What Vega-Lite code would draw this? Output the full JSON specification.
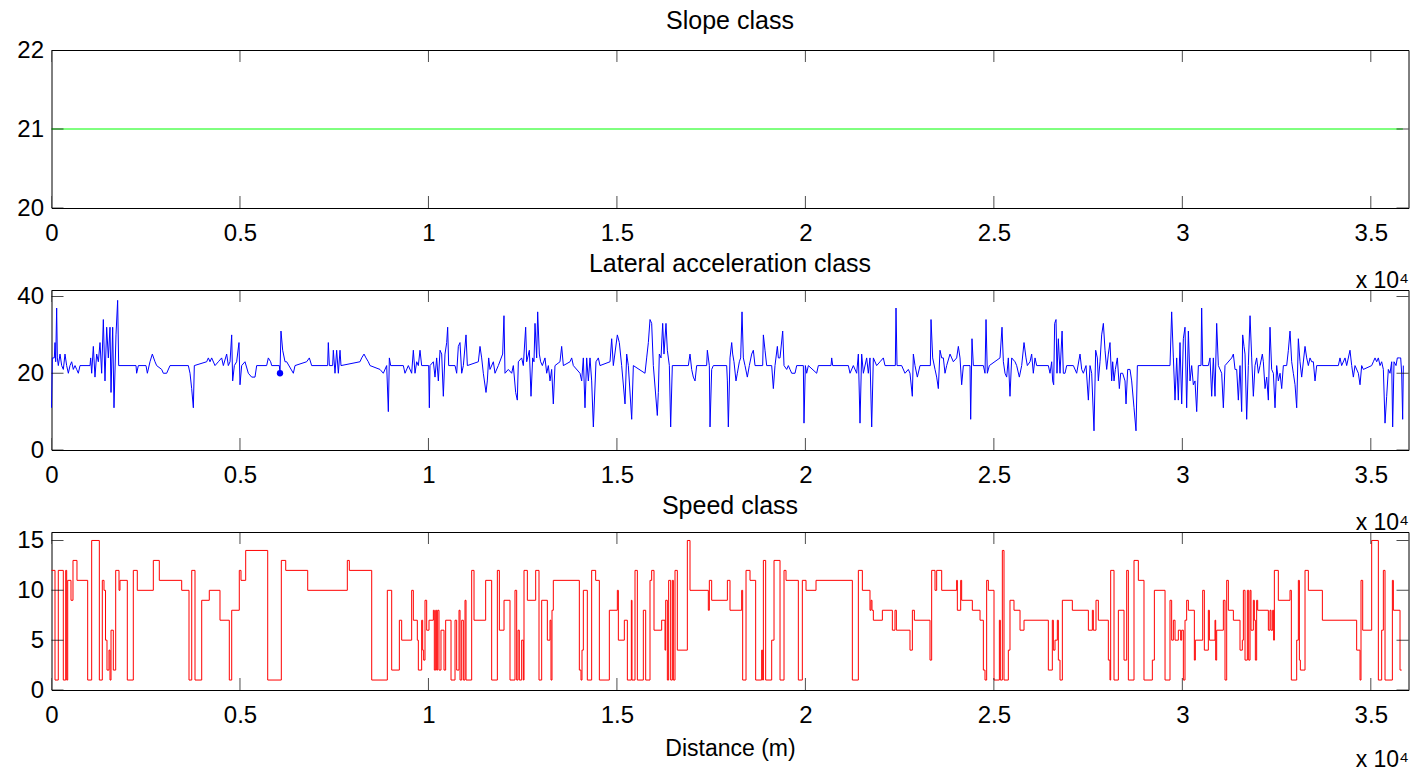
{
  "$schema": "https://vega.github.io/schema/vega-lite/v6.json",
  "background": "white",
  "padding": {"left": 15.5, "top": 8, "right": 2, "bottom": 2},
  "datasets": {
    "xticks": [
      {"distance": 0}, {"distance": 5000}, {"distance": 10000}, {"distance": 15000},
      {"distance": 20000}, {"distance": 25000}, {"distance": 30000}, {"distance": 35000}
    ],
    "slopeTicks": [{"value": 20}, {"value": 21}, {"value": 22}],
    "lateralTicks": [{"value": 0}, {"value": 20}, {"value": 40}],
    "speedTicks": [{"value": 0}, {"value": 5}, {"value": 10}, {"value": 15}],
    "slope": [
      {"distance": 0, "value": 21}, {"distance": 35850, "value": 21}
    ],
    "marker": [
      {"distance": 6062, "value": 20}
    ],
    "lateral": [
      {"distance":0,"value":11},{"distance":22,"value":24},{"distance":75,"value":24},{"distance":93,"value":28},{"distance":111,"value":23},{"distance":137,"value":37},{"distance":155,"value":24},{"distance":181,"value":22},{"distance":226,"value":25},{"distance":270,"value":22},{"distance":314,"value":21},{"distance":358,"value":25},{"distance":402,"value":22},{"distance":447,"value":20},{"distance":491,"value":22},{"distance":535,"value":23},{"distance":579,"value":21},{"distance":624,"value":22},{"distance":668,"value":21},{"distance":712,"value":20},{"distance":756,"value":22},
      {"distance":1022,"value":22},{"distance":1039,"value":24},{"distance":1066,"value":20},{"distance":1110,"value":27},{"distance":1154,"value":19},{"distance":1198,"value":25},{"distance":1243,"value":23},{"distance":1287,"value":28},{"distance":1331,"value":20},{"distance":1375,"value":34},{"distance":1419,"value":18},{"distance":1464,"value":32},{"distance":1508,"value":24},{"distance":1552,"value":32},{"distance":1579,"value":15},{"distance":1623,"value":32},{"distance":1658,"value":11},{"distance":1711,"value":30},{"distance":1755,"value":39},{"distance":1782,"value":22},
      {"distance":2242,"value":22},{"distance":2259,"value":20},{"distance":2304,"value":22},{"distance":2507,"value":22},{"distance":2543,"value":20},{"distance":2613,"value":23},{"distance":2675,"value":25},{"distance":2746,"value":23},{"distance":2790,"value":22},{"distance":2923,"value":21},{"distance":2967,"value":20},{"distance":3055,"value":20},{"distance":3144,"value":22},{"distance":3630,"value":22},{"distance":3675,"value":20},{"distance":3719,"value":16},{"distance":3763,"value":11},{"distance":3789,"value":22},
      {"distance":4117,"value":23},{"distance":4161,"value":24},{"distance":4205,"value":23},{"distance":4249,"value":24},{"distance":4338,"value":22},{"distance":4426,"value":23},{"distance":4514,"value":24},{"distance":4559,"value":22},{"distance":4647,"value":25},{"distance":4691,"value":22},{"distance":4736,"value":23},{"distance":4780,"value":30},{"distance":4806,"value":18},{"distance":4851,"value":22},{"distance":4912,"value":23},{"distance":4974,"value":28},{"distance":5001,"value":17},{"distance":5045,"value":22},{"distance":5133,"value":23},{"distance":5222,"value":20},{"distance":5310,"value":19},{"distance":5399,"value":19},{"distance":5443,"value":22},
      {"distance":5708,"value":22},{"distance":5752,"value":24},{"distance":5814,"value":23},{"distance":5841,"value":22},{"distance":6044,"value":22},{"distance":6062,"value":20},{"distance":6088,"value":31},{"distance":6133,"value":26},{"distance":6195,"value":23},{"distance":6239,"value":23},{"distance":6416,"value":20},{"distance":6460,"value":22},{"distance":6769,"value":23},{"distance":6840,"value":24},{"distance":6902,"value":22},{"distance":7326,"value":22},{"distance":7344,"value":28},{"distance":7371,"value":22},{"distance":7459,"value":22},{"distance":7477,"value":26},{"distance":7521,"value":20},{"distance":7565,"value":26},{"distance":7610,"value":20},{"distance":7654,"value":26},{"distance":7680,"value":22},
      {"distance":8184,"value":23},{"distance":8229,"value":24},{"distance":8291,"value":25},{"distance":8343,"value":24},{"distance":8405,"value":23},{"distance":8450,"value":22},{"distance":8715,"value":21},{"distance":8803,"value":20},{"distance":8892,"value":22},{"distance":8936,"value":10},{"distance":8963,"value":24},{"distance":8998,"value":22},{"distance":9334,"value":22},{"distance":9378,"value":20},{"distance":9467,"value":22},{"distance":9555,"value":20},{"distance":9599,"value":26},{"distance":9644,"value":20},{"distance":9688,"value":23},{"distance":9732,"value":22},{"distance":9776,"value":26},{"distance":9820,"value":22},
      {"distance":10006,"value":22},{"distance":10024,"value":11},{"distance":10041,"value":22},{"distance":10130,"value":23},{"distance":10174,"value":19},{"distance":10218,"value":24},{"distance":10263,"value":18},{"distance":10307,"value":26},{"distance":10351,"value":25},{"distance":10395,"value":14},{"distance":10439,"value":25},{"distance":10484,"value":28},{"distance":10510,"value":32},{"distance":10537,"value":22},{"distance":10705,"value":22},{"distance":10749,"value":20},{"distance":10793,"value":27},{"distance":10837,"value":28},{"distance":10882,"value":20},{"distance":10926,"value":22},{"distance":10997,"value":30},{"distance":11032,"value":22},
      {"distance":11324,"value":23},{"distance":11368,"value":27},{"distance":11412,"value":24},{"distance":11456,"value":20},{"distance":11527,"value":15},{"distance":11562,"value":18},{"distance":11598,"value":24},{"distance":11633,"value":21},{"distance":11722,"value":23},{"distance":11766,"value":20},{"distance":11854,"value":22},{"distance":11969,"value":25},{"distance":12004,"value":35},{"distance":12031,"value":20},{"distance":12119,"value":21},{"distance":12208,"value":20},{"distance":12252,"value":22},{"distance":12314,"value":15},{"distance":12358,"value":13},{"distance":12385,"value":23},{"distance":12473,"value":24},{"distance":12517,"value":22},
      {"distance":12579,"value":32},{"distance":12606,"value":23},{"distance":12677,"value":26},{"distance":12721,"value":14},{"distance":12765,"value":24},{"distance":12800,"value":23},{"distance":12827,"value":33},{"distance":12871,"value":24},{"distance":12898,"value":36},{"distance":12942,"value":25},{"distance":12977,"value":23},{"distance":13022,"value":22},{"distance":13092,"value":24},{"distance":13137,"value":20},{"distance":13181,"value":22},{"distance":13225,"value":18},{"distance":13269,"value":21},{"distance":13313,"value":12},{"distance":13357,"value":22},
      {"distance":13490,"value":23},{"distance":13534,"value":27},{"distance":13579,"value":22},{"distance":13756,"value":23},{"distance":13800,"value":24},{"distance":13844,"value":22},{"distance":14021,"value":20},{"distance":14065,"value":18},{"distance":14109,"value":24},{"distance":14153,"value":11},{"distance":14198,"value":24},{"distance":14242,"value":18},{"distance":14286,"value":24},{"distance":14330,"value":18},{"distance":14375,"value":6},{"distance":14445,"value":23},{"distance":14507,"value":24},{"distance":14551,"value":22},
      {"distance":14817,"value":23},{"distance":14861,"value":29},{"distance":14905,"value":22},{"distance":15011,"value":30},{"distance":15064,"value":28},{"distance":15126,"value":22},{"distance":15215,"value":12},{"distance":15259,"value":25},{"distance":15303,"value":22},{"distance":15392,"value":8},{"distance":15436,"value":22},{"distance":15745,"value":20},{"distance":15789,"value":24},{"distance":15834,"value":28},{"distance":15878,"value":34},{"distance":15922,"value":33},{"distance":15966,"value":22},
      {"distance":16072,"value":9},{"distance":16099,"value":15},{"distance":16125,"value":25},{"distance":16170,"value":24},{"distance":16214,"value":33},{"distance":16249,"value":25},{"distance":16302,"value":33},{"distance":16338,"value":26},{"distance":16391,"value":22},{"distance":16426,"value":6},{"distance":16470,"value":22},{"distance":16895,"value":22},{"distance":16939,"value":25},{"distance":16983,"value":21},{"distance":17027,"value":19},{"distance":17072,"value":18},{"distance":17116,"value":22},{"distance":17381,"value":22},{"distance":17399,"value":26},{"distance":17452,"value":22},{"distance":17470,"value":6},{"distance":17514,"value":21},{"distance":17558,"value":22},
      {"distance":17912,"value":22},{"distance":17930,"value":18},{"distance":17956,"value":6},{"distance":18000,"value":24},{"distance":18045,"value":28},{"distance":18071,"value":25},{"distance":18106,"value":23},{"distance":18159,"value":18},{"distance":18195,"value":20},{"distance":18248,"value":23},{"distance":18283,"value":24},{"distance":18319,"value":36},{"distance":18354,"value":24},{"distance":18398,"value":22},{"distance":18460,"value":19},{"distance":18513,"value":22},{"distance":18575,"value":25},{"distance":18619,"value":26},{"distance":18664,"value":22},
      {"distance":18867,"value":22},{"distance":18885,"value":30},{"distance":18929,"value":26},{"distance":18973,"value":22},{"distance":19106,"value":22},{"distance":19150,"value":16},{"distance":19194,"value":22},{"distance":19256,"value":27},{"distance":19283,"value":24},{"distance":19327,"value":24},{"distance":19398,"value":31},{"distance":19433,"value":22},{"distance":19504,"value":21},{"distance":19548,"value":22},{"distance":19592,"value":21},{"distance":19637,"value":20},{"distance":19725,"value":20},{"distance":19769,"value":22},
      {"distance":19946,"value":22},{"distance":19963,"value":7},{"distance":19999,"value":22},{"distance":20034,"value":20},{"distance":20079,"value":22},{"distance":20299,"value":20},{"distance":20344,"value":22},{"distance":20680,"value":22},{"distance":20698,"value":24},{"distance":20724,"value":22},{"distance":21140,"value":22},{"distance":21184,"value":20},{"distance":21272,"value":22},{"distance":21361,"value":20},{"distance":21405,"value":25},{"distance":21449,"value":7},{"distance":21493,"value":25},{"distance":21538,"value":20},{"distance":21626,"value":24},{"distance":21670,"value":20},{"distance":21714,"value":24},{"distance":21759,"value":6},{"distance":21803,"value":24},{"distance":21891,"value":22},{"distance":21980,"value":23},{"distance":22068,"value":24},{"distance":22112,"value":22},
      {"distance":22386,"value":22},{"distance":22404,"value":37},{"distance":22431,"value":22},{"distance":22554,"value":22},{"distance":22643,"value":20},{"distance":22731,"value":21},{"distance":22775,"value":20},{"distance":22837,"value":14},{"distance":22864,"value":25},{"distance":22908,"value":22},{"distance":22970,"value":19},{"distance":23041,"value":22},{"distance":23315,"value":22},{"distance":23333,"value":34},{"distance":23377,"value":24},{"distance":23439,"value":21},{"distance":23483,"value":19},{"distance":23527,"value":16},{"distance":23571,"value":26},{"distance":23616,"value":24},{"distance":23660,"value":24},{"distance":23704,"value":20},{"distance":23748,"value":22},
      {"distance":23837,"value":25},{"distance":23881,"value":24},{"distance":23925,"value":23},{"distance":24013,"value":24},{"distance":24058,"value":27},{"distance":24102,"value":24},{"distance":24146,"value":17},{"distance":24191,"value":22},{"distance":24367,"value":22},{"distance":24385,"value":8},{"distance":24420,"value":29},{"distance":24456,"value":22},{"distance":24721,"value":22},{"distance":24765,"value":20},{"distance":24792,"value":34},{"distance":24827,"value":20},{"distance":24880,"value":22},
      {"distance":25163,"value":24},{"distance":25216,"value":32},{"distance":25252,"value":23},{"distance":25296,"value":20},{"distance":25340,"value":19},{"distance":25384,"value":24},{"distance":25428,"value":14},{"distance":25473,"value":24},{"distance":25561,"value":23},{"distance":25605,"value":22},{"distance":25676,"value":19},{"distance":25738,"value":22},{"distance":25800,"value":28},{"distance":25853,"value":24},{"distance":25888,"value":22},{"distance":25959,"value":23},{"distance":26003,"value":25},{"distance":26047,"value":20},{"distance":26092,"value":24},{"distance":26136,"value":22},
      {"distance":26445,"value":22},{"distance":26490,"value":20},{"distance":26534,"value":23},{"distance":26560,"value":18},{"distance":26587,"value":17},{"distance":26613,"value":33},{"distance":26649,"value":34},{"distance":26675,"value":20},{"distance":26711,"value":29},{"distance":26755,"value":20},{"distance":26810,"value":31},{"distance":26843,"value":20},{"distance":26888,"value":20},{"distance":26932,"value":22},
      {"distance":27109,"value":22},{"distance":27197,"value":20},{"distance":27286,"value":25},{"distance":27330,"value":21},{"distance":27374,"value":20},{"distance":27445,"value":22},{"distance":27507,"value":13},{"distance":27551,"value":22},{"distance":27595,"value":20},{"distance":27657,"value":5},{"distance":27701,"value":26},{"distance":27745,"value":24},{"distance":27772,"value":18},{"distance":27816,"value":23},{"distance":27860,"value":30},{"distance":27905,"value":33},{"distance":27949,"value":26},{"distance":27993,"value":21},{"distance":28037,"value":25},{"distance":28081,"value":28},{"distance":28126,"value":18},{"distance":28152,"value":23},{"distance":28188,"value":18},{"distance":28223,"value":21},{"distance":28276,"value":24},{"distance":28329,"value":16},{"distance":28364,"value":20},{"distance":28417,"value":20},{"distance":28479,"value":18},{"distance":28506,"value":12},{"distance":28550,"value":21},{"distance":28612,"value":21},{"distance":28656,"value":18},{"distance":28718,"value":11},{"distance":28771,"value":5},{"distance":28807,"value":22},
      {"distance":29673,"value":22},{"distance":29717,"value":36},{"distance":29762,"value":24},{"distance":29806,"value":13},{"distance":29850,"value":24},{"distance":29894,"value":13},{"distance":29938,"value":28},{"distance":29983,"value":12},{"distance":30027,"value":29},{"distance":30071,"value":32},{"distance":30115,"value":11},{"distance":30160,"value":31},{"distance":30204,"value":18},{"distance":30248,"value":22},{"distance":30292,"value":17},{"distance":30336,"value":18},{"distance":30381,"value":10},{"distance":30425,"value":22},{"distance":30496,"value":22},{"distance":30513,"value":37},{"distance":30540,"value":22},
      {"distance":30690,"value":22},{"distance":30734,"value":24},{"distance":30779,"value":14},{"distance":30823,"value":24},{"distance":30867,"value":14},{"distance":30911,"value":33},{"distance":30956,"value":22},{"distance":31044,"value":20},{"distance":31088,"value":11},{"distance":31132,"value":22},{"distance":31309,"value":24},{"distance":31354,"value":25},{"distance":31398,"value":21},{"distance":31442,"value":21},{"distance":31486,"value":13},{"distance":31530,"value":22},{"distance":31574,"value":10},{"distance":31601,"value":30},{"distance":31636,"value":27},{"distance":31663,"value":25},{"distance":31707,"value":8},{"distance":31751,"value":22},{"distance":31796,"value":35},{"distance":31840,"value":24},{"distance":31884,"value":14},{"distance":31928,"value":22},
      {"distance":31972,"value":24},{"distance":32017,"value":20},{"distance":32061,"value":22},{"distance":32123,"value":25},{"distance":32149,"value":23},{"distance":32194,"value":16},{"distance":32238,"value":19},{"distance":32282,"value":13},{"distance":32326,"value":32},{"distance":32370,"value":21},{"distance":32415,"value":20},{"distance":32459,"value":11},{"distance":32503,"value":22},{"distance":32547,"value":18},{"distance":32592,"value":20},{"distance":32636,"value":16},{"distance":32680,"value":22},{"distance":32768,"value":22},{"distance":32813,"value":26},{"distance":32857,"value":31},{"distance":32901,"value":23},{"distance":32945,"value":20},{"distance":32990,"value":17},{"distance":33034,"value":11},{"distance":33078,"value":29},{"distance":33122,"value":23},{"distance":33166,"value":19},{"distance":33255,"value":27},{"distance":33299,"value":24},{"distance":33343,"value":22},{"distance":33387,"value":24},{"distance":33432,"value":23},{"distance":33476,"value":23},{"distance":33520,"value":18},{"distance":33564,"value":22},
      {"distance":34139,"value":22},{"distance":34183,"value":24},{"distance":34227,"value":22},{"distance":34316,"value":24},{"distance":34360,"value":22},{"distance":34448,"value":26},{"distance":34493,"value":22},{"distance":34537,"value":19},{"distance":34581,"value":22},{"distance":34670,"value":20},{"distance":34714,"value":17},{"distance":34758,"value":22},{"distance":34802,"value":21},{"distance":35023,"value":22},{"distance":35067,"value":23},{"distance":35112,"value":24},{"distance":35156,"value":23},{"distance":35200,"value":24},{"distance":35244,"value":22},{"distance":35288,"value":23},{"distance":35333,"value":21},{"distance":35377,"value":7},{"distance":35421,"value":14},{"distance":35465,"value":21},{"distance":35510,"value":20},{"distance":35554,"value":23},{"distance":35580,"value":6},{"distance":35616,"value":23},{"distance":35669,"value":22},{"distance":35704,"value":24},{"distance":35757,"value":24},{"distance":35793,"value":24},{"distance":35819,"value":20},{"distance":35845,"value":8},{"distance":35863,"value":22}
    ],
    "speed": [
      {"distance":0,"value":12},{"distance":93,"value":1},{"distance":180,"value":12},{"distance":313,"value":1},{"distance":377,"value":12},{"distance":403,"value":1},{"distance":430,"value":11},{"distance":517,"value":9},{"distance":570,"value":13},{"distance":676,"value":11},{"distance":960,"value":1},{"distance":1066,"value":15},{"distance":1269,"value":1},{"distance":1348,"value":11},{"distance":1393,"value":10},{"distance":1433,"value":5},{"distance":1472,"value":2},{"distance":1525,"value":4},{"distance":1552,"value":1},{"distance":1579,"value":6},{"distance":1640,"value":2},{"distance":1703,"value":12},{"distance":1791,"value":10},{"distance":1817,"value":11},
      {"distance":2011,"value":1},{"distance":2170,"value":12},{"distance":2276,"value":10},{"distance":2701,"value":13},{"distance":2860,"value":11},{"distance":3454,"value":10},{"distance":3648,"value":1},{"distance":3720,"value":12},{"distance":3807,"value":1},{"distance":3985,"value":9},{"distance":4186,"value":10},{"distance":4470,"value":7},{"distance":4717,"value":1},{"distance":4781,"value":8},{"distance":4982,"value":12},{"distance":5027,"value":11},{"distance":5152,"value":14},{"distance":5736,"value":1},{"distance":6097,"value":13},{"distance":6214,"value":12},{"distance":6797,"value":10},{"distance":7848,"value":13},{"distance":7901,"value":12},{"distance":8495,"value":1},{"distance":8909,"value":10},
      {"distance":9025,"value":2},{"distance":9228,"value":7},{"distance":9290,"value":5},{"distance":9555,"value":10},{"distance":9599,"value":7},{"distance":9705,"value":5},{"distance":9732,"value":2},{"distance":9820,"value":7},{"distance":9847,"value":4},{"distance":9873,"value":3},{"distance":9909,"value":9},{"distance":9953,"value":6},{"distance":10015,"value":7},{"distance":10130,"value":8},{"distance":10156,"value":2},{"distance":10192,"value":8},{"distance":10218,"value":2},{"distance":10245,"value":8},{"distance":10280,"value":2},{"distance":10333,"value":6},{"distance":10413,"value":2},{"distance":10457,"value":7},{"distance":10599,"value":1},{"distance":10705,"value":7},{"distance":10749,"value":2},{"distance":10811,"value":8},{"distance":10838,"value":1},{"distance":10882,"value":7},{"distance":10926,"value":1},{"distance":10970,"value":9},{"distance":10997,"value":1},
      {"distance":11147,"value":12},{"distance":11209,"value":7},{"distance":11518,"value":11},{"distance":11677,"value":1},{"distance":11828,"value":12},{"distance":11881,"value":6},{"distance":12005,"value":9},{"distance":12164,"value":1},{"distance":12296,"value":10},{"distance":12341,"value":1},{"distance":12376,"value":6},{"distance":12411,"value":1},{"distance":12473,"value":5},{"distance":12517,"value":1},{"distance":12535,"value":12},{"distance":12624,"value":9},{"distance":12845,"value":12},{"distance":12933,"value":1},{"distance":13004,"value":9},{"distance":13154,"value":5},{"distance":13225,"value":7},{"distance":13251,"value":1},{"distance":13278,"value":8},{"distance":13313,"value":11},
      {"distance":14003,"value":2},{"distance":14047,"value":1},{"distance":14074,"value":4},{"distance":14109,"value":10},{"distance":14215,"value":1},{"distance":14330,"value":12},{"distance":14436,"value":11},{"distance":14534,"value":1},{"distance":14799,"value":8},{"distance":15011,"value":10},{"distance":15038,"value":5},{"distance":15197,"value":7},{"distance":15277,"value":1},{"distance":15383,"value":9},{"distance":15400,"value":1},{"distance":15480,"value":12},{"distance":15542,"value":1},{"distance":15701,"value":8},{"distance":15763,"value":1},{"distance":15878,"value":11},{"distance":15922,"value":12},{"distance":15984,"value":6},
      {"distance":16187,"value":7},{"distance":16276,"value":4},{"distance":16294,"value":9},{"distance":16338,"value":1},{"distance":16373,"value":11},{"distance":16426,"value":1},{"distance":16470,"value":11},{"distance":16497,"value":1},{"distance":16541,"value":12},{"distance":16603,"value":4},{"distance":16868,"value":15},{"distance":16939,"value":10},{"distance":17425,"value":8},{"distance":17452,"value":11},{"distance":17514,"value":9},
      {"distance":17930,"value":11},{"distance":18000,"value":8},{"distance":18310,"value":10},{"distance":18336,"value":1},{"distance":18425,"value":12},{"distance":18531,"value":11},{"distance":18681,"value":1},{"distance":18840,"value":4},{"distance":18867,"value":1},{"distance":18885,"value":13},{"distance":18946,"value":1},{"distance":19106,"value":5},{"distance":19168,"value":13},{"distance":19327,"value":1},{"distance":19433,"value":12},{"distance":19486,"value":11},{"distance":19813,"value":1},{"distance":19919,"value":11},{"distance":20017,"value":10},{"distance":20282,"value":11},
      {"distance":21246,"value":1},{"distance":21405,"value":12},{"distance":21511,"value":10},{"distance":21714,"value":8},{"distance":21741,"value":9},{"distance":21767,"value":8},{"distance":21803,"value":7},{"distance":22042,"value":8},{"distance":22307,"value":6},{"distance":22377,"value":8},{"distance":22413,"value":6},{"distance":22775,"value":4},{"distance":22838,"value":8},{"distance":22891,"value":7},{"distance":23306,"value":3},{"distance":23350,"value":12},{"distance":23439,"value":10},{"distance":23483,"value":12},{"distance":23616,"value":10},
      {"distance":24013,"value":11},{"distance":24031,"value":8},{"distance":24120,"value":11},{"distance":24146,"value":9},{"distance":24429,"value":8},{"distance":24633,"value":7},{"distance":24721,"value":2},{"distance":24765,"value":1},{"distance":24809,"value":11},{"distance":24854,"value":10},{"distance":25004,"value":1},{"distance":25146,"value":7},{"distance":25172,"value":1},{"distance":25225,"value":14},{"distance":25269,"value":1},{"distance":25384,"value":4},{"distance":25428,"value":9},{"distance":25534,"value":8},{"distance":25694,"value":6},{"distance":25800,"value":7},
      {"distance":26445,"value":2},{"distance":26551,"value":7},{"distance":26578,"value":4},{"distance":26622,"value":5},{"distance":26684,"value":7},{"distance":26711,"value":3},{"distance":26755,"value":1},{"distance":26817,"value":9},{"distance":27082,"value":8},{"distance":27507,"value":6},{"distance":27613,"value":8},{"distance":27639,"value":6},{"distance":27710,"value":9},{"distance":27772,"value":7},{"distance":28037,"value":3},{"distance":28081,"value":1},{"distance":28099,"value":12},{"distance":28188,"value":1},{"distance":28303,"value":8},{"distance":28453,"value":3},{"distance":28524,"value":12},{"distance":28568,"value":1},{"distance":28718,"value":13},{"distance":28833,"value":11},{"distance":28983,"value":1},
      {"distance":29204,"value":3},{"distance":29258,"value":10},{"distance":29541,"value":1},{"distance":29673,"value":9},{"distance":29717,"value":5},{"distance":29762,"value":7},{"distance":29806,"value":5},{"distance":29894,"value":6},{"distance":29956,"value":5},{"distance":29983,"value":6},{"distance":30027,"value":1},{"distance":30071,"value":7},{"distance":30115,"value":9},{"distance":30160,"value":8},{"distance":30319,"value":3},{"distance":30345,"value":5},{"distance":30540,"value":10},{"distance":30584,"value":4},{"distance":30690,"value":8},{"distance":30717,"value":5},{"distance":30867,"value":7},{"distance":30885,"value":3},{"distance":30911,"value":6},
      {"distance":31088,"value":9},{"distance":31132,"value":1},{"distance":31177,"value":11},{"distance":31221,"value":8},{"distance":31354,"value":7},{"distance":31530,"value":4},{"distance":31592,"value":5},{"distance":31619,"value":10},{"distance":31663,"value":3},{"distance":31725,"value":10},{"distance":31760,"value":3},{"distance":31796,"value":10},{"distance":31822,"value":6},{"distance":31884,"value":9},{"distance":31910,"value":7},{"distance":31937,"value":3},{"distance":31972,"value":9},{"distance":31999,"value":8},{"distance":32282,"value":6},{"distance":32326,"value":8},{"distance":32352,"value":6},{"distance":32397,"value":8},{"distance":32423,"value":5},{"distance":32441,"value":12},{"distance":32547,"value":9},{"distance":32857,"value":10},{"distance":32892,"value":1},
      {"distance":33034,"value":5},{"distance":33078,"value":11},{"distance":33105,"value":3},{"distance":33131,"value":2},{"distance":33255,"value":12},{"distance":33343,"value":10},{"distance":33715,"value":7},{"distance":34625,"value":4},{"distance":34714,"value":1},{"distance":34740,"value":11},{"distance":34785,"value":6},{"distance":35023,"value":15},{"distance":35200,"value":1},{"distance":35288,"value":6},{"distance":35333,"value":12},{"distance":35377,"value":1},{"distance":35572,"value":11},{"distance":35598,"value":8},{"distance":35775,"value":2},{"distance":35819,"value":2}
    ]
  },
  "title": {
    "text": "x 10⁴",
    "orient": "bottom",
    "anchor": "end",
    "baseline": "alphabetic",
    "offset": 6,
    "fontSize": 23,
    "font": "Liberation Sans",
    "fontWeight": "normal",
    "color": "black"
  },
  "bounds": "flush",
  "spacing": 82,
  "vconcat": [
    {
      "width": 1357,
      "height": 158,
      "title": {"text": "Slope class", "baseline": "alphabetic", "offset": -16},
      "layer": [
        {
          "data": {"name": "slope"},
          "mark": {"type": "line", "color": "#00ff00", "strokeWidth": 1},
          "encoding": {
            "x": {"field": "distance", "type": "quantitative",
                  "scale": {"domain": [0, 36000], "nice": false, "zero": false},
                  "axis": {"orient": "bottom", "values": [0, 5000, 10000, 15000, 20000, 25000, 30000, 35000],
                           "labelExpr": "datum.value / 10000", "title": "x 10⁴",
                           "titleAnchor": "end", "titleAlign": "right", "titleBaseline": "alphabetic", "titlePadding": 42}},
            "y": {"field": "value", "type": "quantitative",
                  "scale": {"domain": [20, 22], "nice": false, "zero": false},
                  "axis": {"orient": "left", "values": [20, 21, 22], "labelExpr": "'' + datum.value", "title": null}}
          }
        },
        {"data": {"name": "xticks"}, "mark": {"type": "tick", "orient": "vertical", "size": 24, "thickness": 1, "color": "black", "clip": true},
         "encoding": {"x": {"field": "distance", "type": "quantitative", "scale": {"domain": [0, 36000], "nice": false, "zero": false}, "axis": null},
                      "y": {"datum": 22, "type": "quantitative", "scale": {"domain": [20, 22], "nice": false, "zero": false}, "axis": null}}},
        {"data": {"name": "xticks"}, "mark": {"type": "tick", "orient": "vertical", "size": 24, "thickness": 1, "color": "black", "clip": true},
         "encoding": {"x": {"field": "distance", "type": "quantitative", "scale": {"domain": [0, 36000], "nice": false, "zero": false}, "axis": null},
                      "y": {"datum": 20, "type": "quantitative", "scale": {"domain": [20, 22], "nice": false, "zero": false}, "axis": null}}},
        {"data": {"name": "slopeTicks"}, "mark": {"type": "tick", "orient": "horizontal", "size": 24, "thickness": 1, "color": "black", "clip": true},
         "encoding": {"y": {"field": "value", "type": "quantitative", "scale": {"domain": [20, 22], "nice": false, "zero": false}, "axis": null},
                      "x": {"datum": 0, "type": "quantitative", "scale": {"domain": [0, 36000], "nice": false, "zero": false}, "axis": null}}},
        {"data": {"name": "slopeTicks"}, "mark": {"type": "tick", "orient": "horizontal", "size": 24, "thickness": 1, "color": "black", "clip": true},
         "encoding": {"y": {"field": "value", "type": "quantitative", "scale": {"domain": [20, 22], "nice": false, "zero": false}, "axis": null},
                      "x": {"datum": 36000, "type": "quantitative", "scale": {"domain": [0, 36000], "nice": false, "zero": false}, "axis": null}}}
      ],
      "resolve": {"scale": {"x": "independent", "y": "independent"}}
    },
    {
      "width": 1357,
      "height": 160,
      "title": {"text": "Lateral acceleration class", "baseline": "alphabetic", "offset": -12},
      "layer": [
        {
          "data": {"name": "lateral"},
          "mark": {"type": "line", "color": "#0000ff", "strokeWidth": 1},
          "encoding": {
            "x": {"field": "distance", "type": "quantitative",
                  "scale": {"domain": [0, 36000], "nice": false, "zero": false},
                  "axis": {"orient": "bottom", "values": [0, 5000, 10000, 15000, 20000, 25000, 30000, 35000],
                           "labelExpr": "datum.value / 10000", "title": "x 10⁴",
                           "titleAnchor": "end", "titleAlign": "right", "titleBaseline": "alphabetic", "titlePadding": 42}},
            "y": {"field": "value", "type": "quantitative",
                  "scale": {"domain": [0, 41.7], "nice": false, "zero": false},
                  "axis": {"orient": "left", "values": [0, 20, 40], "labelExpr": "'' + datum.value", "title": null}}
          }
        },
        {
          "data": {"name": "marker"},
          "mark": {"type": "point", "filled": true, "color": "#0000ff", "size": 40, "opacity": 1},
          "encoding": {
            "x": {"field": "distance", "type": "quantitative", "scale": {"domain": [0, 36000], "nice": false, "zero": false}, "axis": null},
            "y": {"field": "value", "type": "quantitative", "scale": {"domain": [0, 41.7], "nice": false, "zero": false}, "axis": null}
          }
        },
        {"data": {"name": "xticks"}, "mark": {"type": "tick", "orient": "vertical", "size": 24, "thickness": 1, "color": "black", "clip": true},
         "encoding": {"x": {"field": "distance", "type": "quantitative", "scale": {"domain": [0, 36000], "nice": false, "zero": false}, "axis": null},
                      "y": {"datum": 41.7, "type": "quantitative", "scale": {"domain": [0, 41.7], "nice": false, "zero": false}, "axis": null}}},
        {"data": {"name": "xticks"}, "mark": {"type": "tick", "orient": "vertical", "size": 24, "thickness": 1, "color": "black", "clip": true},
         "encoding": {"x": {"field": "distance", "type": "quantitative", "scale": {"domain": [0, 36000], "nice": false, "zero": false}, "axis": null},
                      "y": {"datum": 0, "type": "quantitative", "scale": {"domain": [0, 41.7], "nice": false, "zero": false}, "axis": null}}},
        {"data": {"name": "lateralTicks"}, "mark": {"type": "tick", "orient": "horizontal", "size": 24, "thickness": 1, "color": "black", "clip": true},
         "encoding": {"y": {"field": "value", "type": "quantitative", "scale": {"domain": [0, 41.7], "nice": false, "zero": false}, "axis": null},
                      "x": {"datum": 0, "type": "quantitative", "scale": {"domain": [0, 36000], "nice": false, "zero": false}, "axis": null}}},
        {"data": {"name": "lateralTicks"}, "mark": {"type": "tick", "orient": "horizontal", "size": 24, "thickness": 1, "color": "black", "clip": true},
         "encoding": {"y": {"field": "value", "type": "quantitative", "scale": {"domain": [0, 41.7], "nice": false, "zero": false}, "axis": null},
                      "x": {"datum": 36000, "type": "quantitative", "scale": {"domain": [0, 36000], "nice": false, "zero": false}, "axis": null}}}
      ],
      "resolve": {"scale": {"x": "independent", "y": "independent"}}
    },
    {
      "width": 1357,
      "height": 158,
      "title": {"text": "Speed class", "baseline": "alphabetic", "offset": -11},
      "layer": [
        {
          "data": {"name": "speed"},
          "mark": {"type": "line", "color": "#ff0000", "strokeWidth": 1, "interpolate": "step-after"},
          "encoding": {
            "x": {"field": "distance", "type": "quantitative",
                  "scale": {"domain": [0, 36000], "nice": false, "zero": false},
                  "axis": {"orient": "bottom", "values": [0, 5000, 10000, 15000, 20000, 25000, 30000, 35000],
                           "labelExpr": "datum.value / 10000", "title": "Distance (m)",
                           "titleBaseline": "alphabetic", "titlePadding": 28}},
            "y": {"field": "value", "type": "quantitative",
                  "scale": {"domain": [0, 15.85], "nice": false, "zero": false},
                  "axis": {"orient": "left", "values": [0, 5, 10, 15], "labelExpr": "'' + datum.value", "title": null}}
          }
        },
        {"data": {"name": "xticks"}, "mark": {"type": "tick", "orient": "vertical", "size": 24, "thickness": 1, "color": "black", "clip": true},
         "encoding": {"x": {"field": "distance", "type": "quantitative", "scale": {"domain": [0, 36000], "nice": false, "zero": false}, "axis": null},
                      "y": {"datum": 15.85, "type": "quantitative", "scale": {"domain": [0, 15.85], "nice": false, "zero": false}, "axis": null}}},
        {"data": {"name": "xticks"}, "mark": {"type": "tick", "orient": "vertical", "size": 24, "thickness": 1, "color": "black", "clip": true},
         "encoding": {"x": {"field": "distance", "type": "quantitative", "scale": {"domain": [0, 36000], "nice": false, "zero": false}, "axis": null},
                      "y": {"datum": 0, "type": "quantitative", "scale": {"domain": [0, 15.85], "nice": false, "zero": false}, "axis": null}}},
        {"data": {"name": "speedTicks"}, "mark": {"type": "tick", "orient": "horizontal", "size": 24, "thickness": 1, "color": "black", "clip": true},
         "encoding": {"y": {"field": "value", "type": "quantitative", "scale": {"domain": [0, 15.85], "nice": false, "zero": false}, "axis": null},
                      "x": {"datum": 0, "type": "quantitative", "scale": {"domain": [0, 36000], "nice": false, "zero": false}, "axis": null}}},
        {"data": {"name": "speedTicks"}, "mark": {"type": "tick", "orient": "horizontal", "size": 24, "thickness": 1, "color": "black", "clip": true},
         "encoding": {"y": {"field": "value", "type": "quantitative", "scale": {"domain": [0, 15.85], "nice": false, "zero": false}, "axis": null},
                      "x": {"datum": 36000, "type": "quantitative", "scale": {"domain": [0, 36000], "nice": false, "zero": false}, "axis": null}}}
      ],
      "resolve": {"scale": {"x": "independent", "y": "independent"}}
    }
  ],
  "config": {
    "font": "Liberation Sans",
    "view": {"stroke": "black", "strokeWidth": 1},
    "axis": {
      "domain": false,
      "grid": false,
      "ticks": false,
      "tickSize": 0,
      "minExtent": 0,
      "labelFont": "Liberation Sans",
      "labelFontSize": 24,
      "labelColor": "black",
      "labelFlush": false,
      "labelOverlap": false,
      "titleFont": "Liberation Sans",
      "titleFontSize": 23,
      "titleFontWeight": "normal",
      "titleColor": "black"
    },
    "axisBottom": {"labelPadding": 32, "labelBaseline": "alphabetic"},
    "axisLeft": {"labelPadding": 8},
    "title": {"font": "Liberation Sans", "fontSize": 25, "fontWeight": "normal", "color": "black", "anchor": "middle"}
  }
}
